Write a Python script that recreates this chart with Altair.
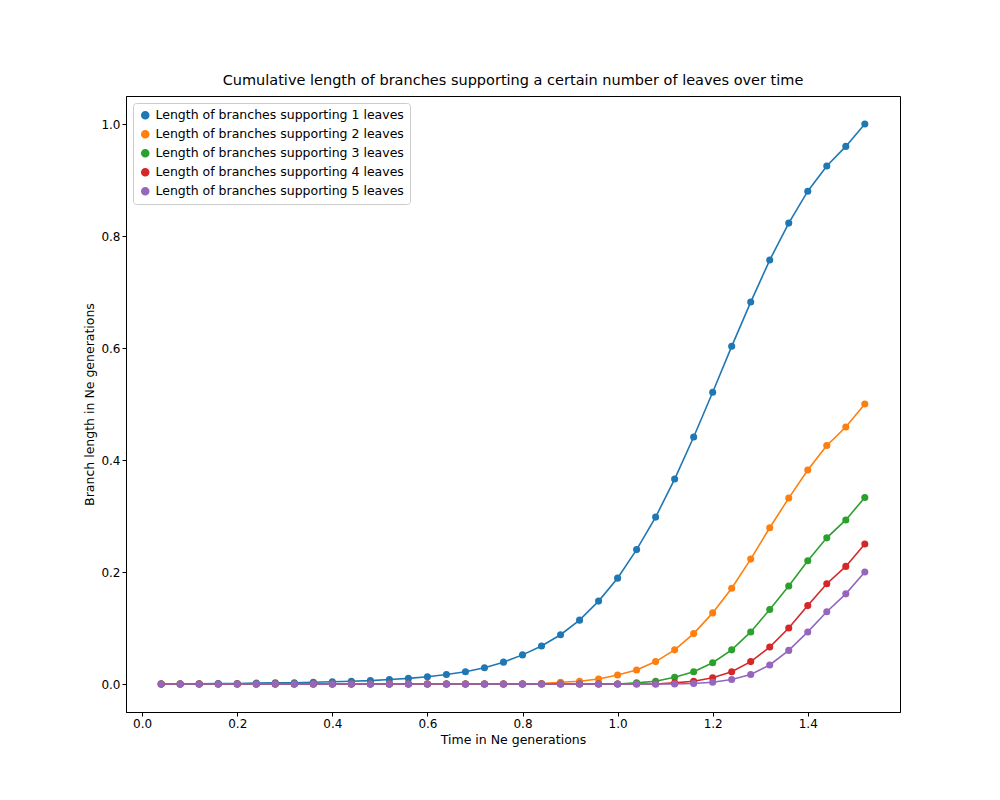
import altair as alt
import pandas as pd

times = [round(0.04 * (i + 1), 2) for i in range(38)]

leaves1 = [0, 0, 0.0005, 0.001, 0.001, 0.0015, 0.002, 0.002, 0.003, 0.004, 0.005, 0.006,
           0.008, 0.010, 0.013, 0.017, 0.022, 0.029, 0.039, 0.052, 0.068, 0.088, 0.114,
           0.148, 0.189, 0.240, 0.298, 0.366, 0.441, 0.521, 0.603, 0.682, 0.757, 0.823,
           0.880, 0.925, 0.960, 1.0]
leaves2 = [0] * 20 + [0.001, 0.003, 0.005, 0.009, 0.016, 0.025, 0.040, 0.061, 0.090,
                      0.127, 0.171, 0.223, 0.279, 0.332, 0.382, 0.426, 0.459, 0.5]
leaves3 = [0] * 25 + [0.002, 0.005, 0.012, 0.022, 0.038, 0.061, 0.093, 0.133, 0.175,
                      0.220, 0.261, 0.293, 0.333]
leaves4 = [0] * 27 + [0.002, 0.005, 0.011, 0.022, 0.040, 0.066, 0.100, 0.140, 0.179,
                      0.210, 0.250]
leaves5 = [0] * 28 + [0.001, 0.003, 0.008, 0.017, 0.034, 0.060, 0.093, 0.129, 0.161, 0.2]

series = [leaves1, leaves2, leaves3, leaves4, leaves5]
names = [f"Length of branches supporting {k} leaves" for k in range(1, 6)]
colors = ["#1f77b4", "#ff7f0e", "#2ca02c", "#d62728", "#9467bd"]

rows = []
for name, vals in zip(names, series):
    for t, v in zip(times, vals):
        rows.append({"t": t, "v": v, "s": name})
df = pd.DataFrame(rows)

font = "DejaVu Sans"
color = alt.Color("s:N", scale=alt.Scale(domain=names, range=colors),
                  legend=alt.Legend(title=None, orient="none", legendX=7, legendY=7,
                                    symbolType="circle", symbolSize=50, labelFontSize=12.5,
                                    labelFont=font, labelLimit=0, strokeColor="#cccccc",
                                    padding=6, fillColor="white", cornerRadius=3,
                                    rowPadding=5, labelColor="black"))
axis_style = dict(grid=False, tickSize=4, labelFontSize=12, titleFontSize=12.5,
                  titleFontWeight="normal", labelFont=font, titleFont=font,
                  domainColor="black", tickColor="black", labelColor="black",
                  titleColor="black")
base = alt.Chart(df).encode(
    x=alt.X("t:Q", title="Time in Ne generations",
            scale=alt.Scale(domain=[-0.034, 1.594], nice=False, zero=False),
            axis=alt.Axis(values=[0, 0.2, 0.4, 0.6, 0.8, 1.0, 1.2, 1.4], format=".1f",
                          **axis_style)),
    y=alt.Y("v:Q", title="Branch length in Ne generations",
            scale=alt.Scale(domain=[-0.05, 1.05], nice=False),
            axis=alt.Axis(values=[0, 0.2, 0.4, 0.6, 0.8, 1.0], format=".1f",
                          **axis_style)),
    color=color,
    detail="s:N",
)
lines = base.mark_line(strokeWidth=1.6)
pts = base.mark_circle(size=50, opacity=1)

chart = (lines + pts).properties(
    width=774, height=616,
    title=alt.Title("Cumulative length of branches supporting a certain number of leaves over time",
                    fontSize=14.5, fontWeight="normal", font=font, offset=8, color="black"),
    autosize=alt.AutoSizeParams(type="none"),
    padding={"left": 118, "top": 88, "right": 90, "bottom": 80},
).configure_view(stroke="black", strokeWidth=1)

chart.save("out.html", embed_options={"renderer": "svg", "actions": False})
